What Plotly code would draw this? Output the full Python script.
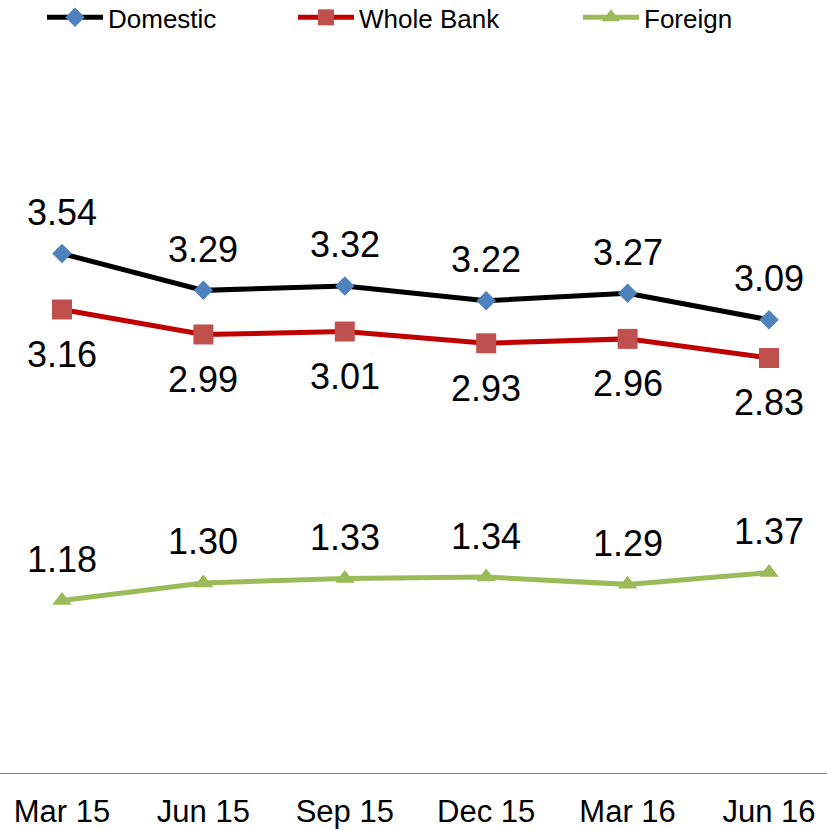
import plotly.graph_objects as go

categories = ["Mar 15", "Jun 15", "Sep 15", "Dec 15", "Mar 16", "Jun 16"]
domestic = [3.54, 3.29, 3.32, 3.22, 3.27, 3.09]
whole_bank = [3.16, 2.99, 3.01, 2.93, 2.96, 2.83]
foreign = [1.18, 1.30, 1.33, 1.34, 1.29, 1.37]

W, H = 827, 830
B = 56
plot_h = H - B
px_per_unit = 147.0
ymax = plot_h / px_per_unit

x_first_px, x_last_px = 62, 769
unit = (x_last_px - x_first_px) / 5
r0 = -x_first_px / unit
r1 = r0 + W / unit

FONT = "Liberation Sans, Arial, sans-serif"
lab_font = dict(family=FONT, size=36, color="black")

fig = go.Figure()
fig.add_trace(go.Scatter(
    x=categories, y=domestic, name="Domestic", mode="lines+markers",
    line=dict(color="black", width=5),
    marker=dict(symbol="diamond", size=15, color="#4F81BD"),
    legend="legend"))
fig.add_trace(go.Scatter(
    x=categories, y=whole_bank, name="Whole Bank", mode="lines+markers",
    line=dict(color="#C00000", width=5),
    marker=dict(symbol="square", size=20, color="#C0504D"),
    legend="legend2"))
fig.add_trace(go.Scatter(
    x=categories, y=foreign, name="Foreign", mode="lines+markers",
    line=dict(color="#9BBB59", width=5),
    marker=dict(symbol="triangle-up", size=17, color="#9BBB59"),
    legend="legend3"))

annotations = []
for series, shift in ((domestic, 41), (whole_bank, -45), (foreign, 41)):
    for c, v in zip(categories, series):
        annotations.append(dict(x=c, y=v, xref="x", yref="y", text=f"{v:.2f}",
                                showarrow=False, yshift=shift, font=lab_font,
                                xanchor="center", yanchor="middle"))

leg_common = dict(orientation="h", yanchor="top", y=1.0078, xanchor="left",
                  font=dict(family=FONT, size=26, color="black"),
                  bgcolor="rgba(0,0,0,0)", itemwidth=56, borderwidth=0)

fig.update_layout(
    width=W, height=H,
    margin=dict(l=0, r=0, t=0, b=B, autoexpand=False),
    plot_bgcolor="white", paper_bgcolor="white",
    showlegend=True,
    legend=dict(x=(47 - 5) / W, **leg_common),
    legend2=dict(x=(298 - 5) / W, **leg_common),
    legend3=dict(x=(583 - 5) / W, **leg_common),
    xaxis=dict(type="category", range=[r0, r1], showgrid=False, zeroline=False,
               showline=False, ticks="", ticklabelstandoff=16, automargin=False,
               tickfont=dict(family=FONT, size=31, color="black")),
    yaxis=dict(range=[0, ymax], showgrid=False, zeroline=False, showline=False,
               showticklabels=False, ticks="", automargin=False),
    shapes=[dict(type="line", xref="paper", yref="y", x0=0, x1=1, y0=0, y1=0,
                 line=dict(color="#868686", width=2))],
    annotations=annotations,
)

fig.write_html("out.html", config={"displayModeBar": False},
               post_script="document.body.style.margin='0';document.body.style.overflow='hidden';")
